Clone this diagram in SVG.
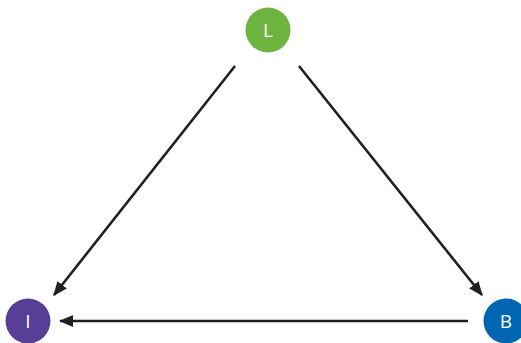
<svg xmlns="http://www.w3.org/2000/svg" width="521" height="343" viewBox="0 0 521 343">
<style>
.lbl{font-family:"Open Sans","Liberation Sans",sans-serif;font-size:19px;fill:#ffffff;text-anchor:middle;dominant-baseline:central}
.edge{stroke:#231f20;stroke-width:2.6;fill:none}
</style>
<defs>
<marker id="ah" viewBox="0 0 12 10" refX="11" refY="5" markerWidth="5.5" markerHeight="4.6" orient="auto" markerUnits="strokeWidth">
<path d="M0,0 L12,5 L0,10 z" fill="#231f20"/>
</marker>
</defs>
<rect width="521" height="343" fill="#ffffff"/>
<g id="connectors">
<line class="edge" x1="235" y1="66" x2="54" y2="295" marker-end="url(#ah)"/>
<line class="edge" x1="299" y1="66" x2="482" y2="295" marker-end="url(#ah)"/>
<line class="edge" x1="468" y1="321" x2="60" y2="321" marker-end="url(#ah)"/>
</g>
<g id="node-L">
<circle cx="268" cy="30" r="22.5" fill="#6cb33f"/>
<text class="lbl" x="268" y="30">L</text>
</g>
<g id="node-I">
<circle cx="28" cy="321" r="22.5" fill="#573f98"/>
<text class="lbl" x="28" y="321">I</text>
</g>
<g id="node-B">
<circle cx="506" cy="321" r="22.5" fill="#0066b3"/>
<text class="lbl" x="506" y="321">B</text>
</g>
</svg>
